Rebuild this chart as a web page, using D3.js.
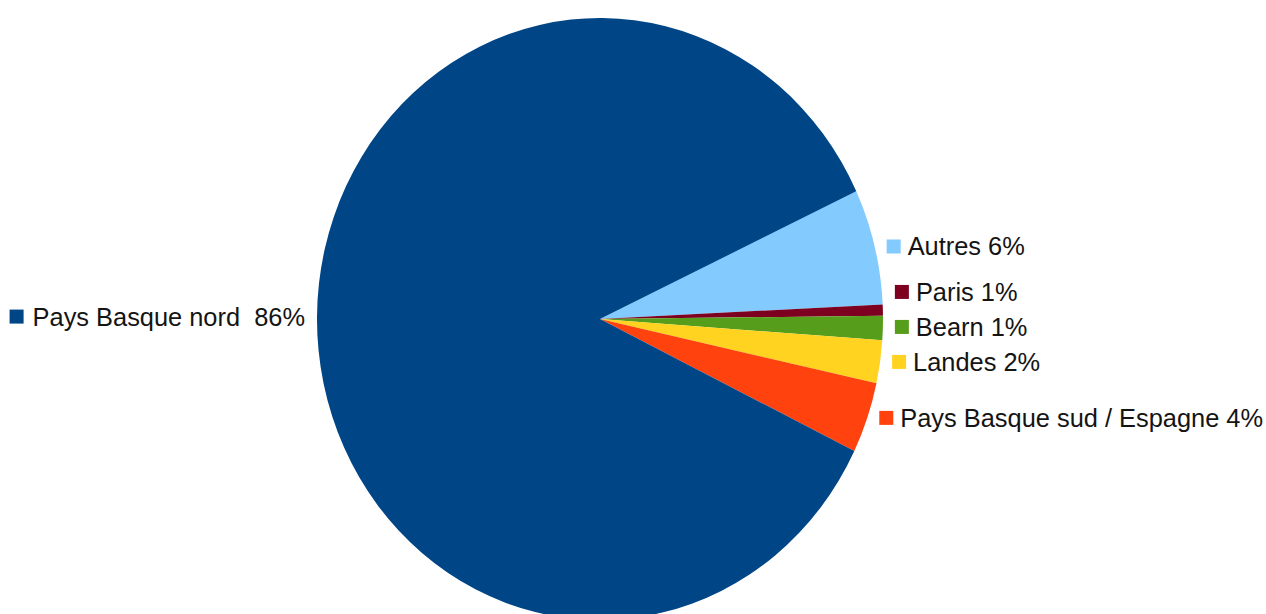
<!DOCTYPE html>
<html>
<head>
<meta charset="utf-8">
<script src="https://cdn.jsdelivr.net/npm/d3@7"></script>
<style>
  html, body { margin: 0; padding: 0; background: #fff; }
  svg { display: block; }
  text { font-family: "Liberation Sans", Arial, sans-serif; font-size: 25.4px; fill: #141414; }
</style>
</head>
<body>
<svg id="chart" width="1266" height="614"></svg>
<script>
// Origin of the respondents, in percent
const categories = ["Autres", "Paris", "Bearn", "Landes", "Pays Basque sud / Espagne", "Pays Basque nord"];
const shares = [6.2, 0.6, 1.3, 2.3, 3.8, 85.8];
const colors = ["#83caff", "#7e0021", "#579d1c", "#ffd320", "#ff420e", "#004586"];

const W = 1266, H = 614;
const cx = 600, cy = 319;
const rx = 283, ry = 301;          // the pie is drawn as an ellipse
const startDeg = 64.9;             // first slice starts just above the 3 o'clock line

const svg = d3.select("#chart");
const data = categories.map((c, i) => ({ name: c, value: shares[i], color: colors[i] }));
const total = d3.sum(shares);
const pct = d3.format(".0%");

const pie = d3.pie()
  .value(d => d.value)
  .sort(null)
  .startAngle(startDeg * Math.PI / 180)
  .endAngle(startDeg * Math.PI / 180 + 2 * Math.PI);

const arcs = pie(data);
const arc = d3.arc().innerRadius(0).outerRadius(ry);

svg.append("g")
  .attr("transform", `translate(${cx},${cy}) scale(${rx / ry},1)`)
  .selectAll("path")
  .data(arcs)
  .join("path")
  .attr("d", arc)
  .attr("fill", d => d.data.color);

// label anchor on the ellipse rim at each slice's mid angle
const labels = arcs.map(a => {
  const m = (a.startAngle + a.endAngle) / 2;
  return {
    d: a.data,
    x: cx + rx * Math.sin(m),
    y: cy - ry * Math.cos(m),
    right: Math.sin(m) >= 0
  };
});

// keep right-hand labels from overlapping: walk bottom-up and push up
const gap = 35;
const rightLabels = labels.filter(l => l.right).sort((a, b) => b.y - a.y);
for (let i = 1; i < rightLabels.length; i++) {
  rightLabels[i].y = Math.min(rightLabels[i].y, rightLabels[i - 1].y - gap);
}

const sq = 14;
labels.forEach(l => {
  const g = svg.append("g");
  const label = `${l.d.name} ${pct(l.d.value / total)}`;
  if (l.right) {
    const x0 = l.x + 12;
    g.append("rect").attr("x", x0).attr("y", l.y - sq / 2).attr("width", sq).attr("height", sq).attr("fill", l.d.color);
    g.append("text").attr("x", x0 + 21).attr("y", l.y + 9).text(label);
  } else {
    const t = g.append("text")
      .attr("x", l.x - 12).attr("y", l.y + 9)
      .attr("text-anchor", "end")
      .attr("xml:space", "preserve")
      .text(`${l.d.name}  ${pct(l.d.value / total)}`);
    const w = t.node().getComputedTextLength();
    g.append("rect").attr("x", l.x - 12 - w - 9 - sq).attr("y", l.y - sq / 2).attr("width", sq).attr("height", sq).attr("fill", l.d.color);
  }
});
</script>
</body>
</html>
